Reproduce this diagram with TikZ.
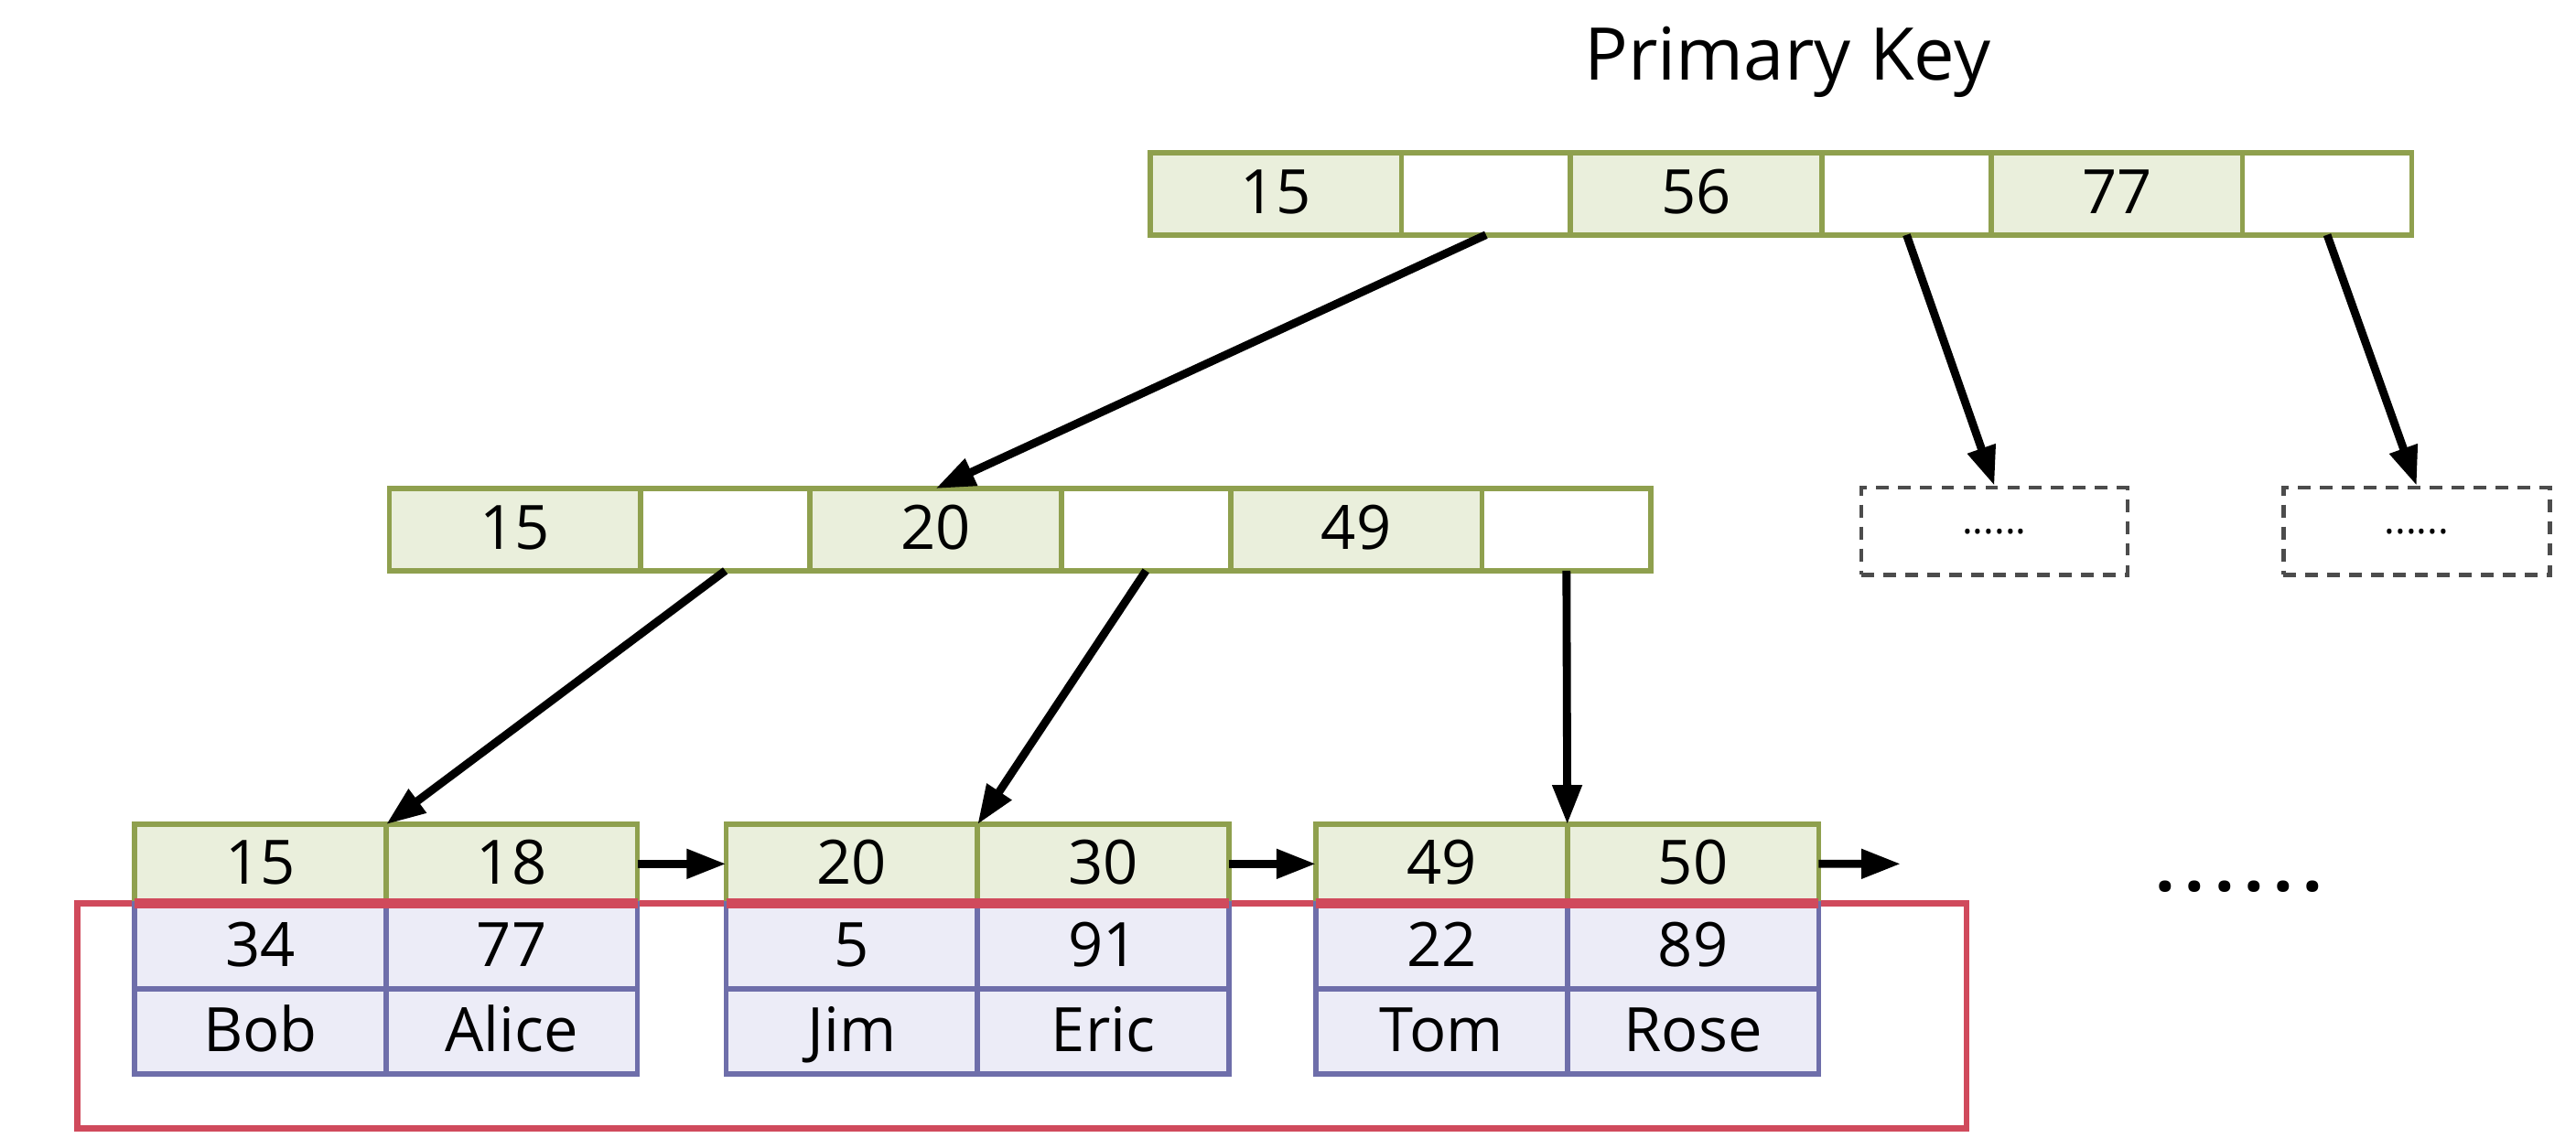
\documentclass[tikz,border=0pt]{standalone}
\usepackage{fontspec}
\setmainfont{Open Sans}
\usetikzlibrary{positioning,arrows.meta}
\definecolor{keyfill}{HTML}{EAEFDC}
\definecolor{keyline}{HTML}{8FA04E}
\definecolor{datafill}{HTML}{ECECF7}
\definecolor{dataline}{HTML}{6E6EAA}
\definecolor{redline}{HTML}{D04A5C}
\begin{document}
\begin{tikzpicture}[
  x=1cm, y=1cm,
  cell/.style={
    draw=keyline,
    line width=0.9pt,
    minimum height=0.5cm,
    inner sep=0pt,
    outer sep=0pt,
    text height=1.55ex,
    text depth=0.25ex,
    font=\fontsize{10.6}{12}\selectfont
  },
  key/.style={
    cell,
    fill=keyfill,
    minimum width=1.53cm
  },
  ptr/.style={
    cell,
    fill=white,
    minimum width=1.03cm
  },
  leafkey/.style={
    key,
    minimum height=0.48cm
  },
  data/.style={
    cell,
    draw=dataline,
    fill=datafill,
    minimum width=1.53cm,
    minimum height=0.52cm
  },
  more/.style={
    draw=black!70,
    dash pattern=on 2.2pt off 1.6pt,
    line width=0.7pt,
    minimum width=1.62cm,
    minimum height=0.53cm,
    inner sep=0pt,
    font=\scriptsize
  },
  link/.style={
    -{Triangle[length=0.24cm,width=0.17cm]},
    line width=1.4pt
  }
]%
\useasboundingbox (0,0) rectangle (15.68,-6.924);

% root
\node [key] (r1) at (7.765,-1.18) {15};
\node [ptr, right=0pt of r1] (rp1) {};
\node [key, right=0pt of rp1] (r2) {56};
\node [ptr, right=0pt of r2] (rp2) {};
\node [key, right=0pt of rp2] (r3) {77};
\node [ptr, right=0pt of r3] (rp3) {};
\node [font=\fontsize{12.6}{14}\selectfont] (title) at (10.88,-0.38) {Primary Key};

% second level
\node [key] (m1) at (3.135,-3.225) {15};
\node [ptr, right=0pt of m1] (mp1) {};
\node [key, right=0pt of mp1] (m2) {20};
\node [ptr, right=0pt of m2] (mp2) {};
\node [key, right=0pt of mp2] (m3) {49};
\node [ptr, right=0pt of m3] (mp3) {};

\node [more] (d1) at (12.14,-3.235) {......};
\node [more] (d2) at (14.71,-3.235) {......};

% leaves
\draw [redline, line width=1pt] (0.47,-5.50) rectangle (11.97,-6.87);
\foreach \n/\x/\ka/\kb/\va/\vb/\na/\nb in {
    1/0.82/15/18/34/77/Bob/Alice,
    2/4.42/20/30/5/91/Jim/Eric,
    3/8.01/49/50/22/89/Tom/Rose}{
  \node [leafkey, anchor=south west] (l\n a) at (\x,-5.50) {\ka};
  \node [leafkey, right=0pt of l\n a] (l\n b) {\kb};
  \node [data, below=0pt of l\n a] (v\n a) {\va};
  \node [data, below=0pt of l\n b] (v\n b) {\vb};
  \node [data, below=0pt of v\n a] (n\n a) {\na};
  \node [data, below=0pt of v\n b] (n\n b) {\nb};
}
\draw [redline, line width=1.8pt] (l1a.south west) -- (l1b.south east);
\draw [redline, line width=1.8pt] (l2a.south west) -- (l2b.south east);
\draw [redline, line width=1.8pt] (l3a.south west) -- (l3b.south east);
\node [font=\fontsize{12}{14}\selectfont\bfseries\addfontfeatures{LetterSpace=14}] (dots) at (13.63,-5.40) {......};
\coordinate (next) at (11.57,-5.26);

% arrows
\draw [link] (rp1.south) -- (m2.north);
\draw [link] (rp2.south) -- (d1.north);
\draw [link] (rp3.south) -- (d2.north);
\draw [link] (mp1.south) -- (l1a.north east);
\draw [link] (mp2.south) -- (l2a.north east);
\draw [link] (mp3.south) -- (l3a.north east);
\draw [link] (l1b.east) -- (l2a.west);
\draw [link] (l2b.east) -- (l3a.west);
\draw [link] (l3b.east) -- (next);
\end{tikzpicture}
\end{document}
